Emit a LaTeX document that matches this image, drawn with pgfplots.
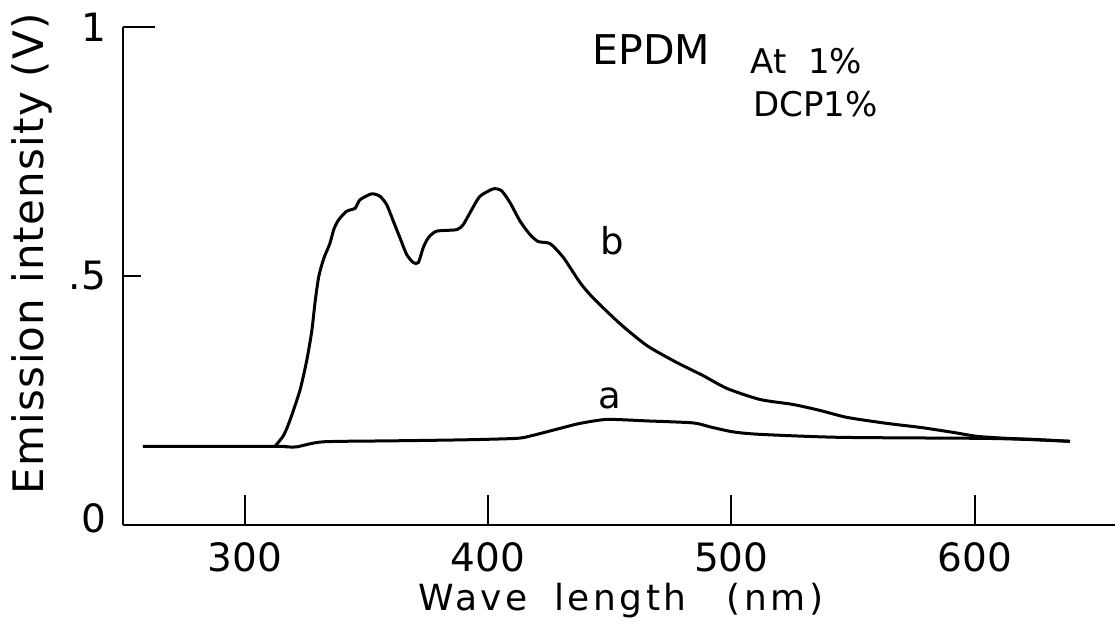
\documentclass[border=0pt]{standalone}
\usepackage{fontspec}
\setmainfont{DejaVu Sans}
\newfontfamily\xlfont[LetterSpace=10]{DejaVu Sans}
\newfontfamily\ylfont[LetterSpace=3]{DejaVu Sans}
\usepackage{pgfplots}
\pgfplotsset{compat=1.18}

\pgfplotstableread{
w v
312.5 0.158
316.0 0.18
318.6 0.21
322.7 0.27
325.5 0.33
327.6 0.39
329.0 0.45
330.5 0.50
332.5 0.535
335.0 0.565
336.6 0.593
338.5 0.612
341.9 0.630
345.4 0.636
347.4 0.653
352.2 0.665
355.6 0.66
358.4 0.643
361.1 0.61
363.8 0.577
366.6 0.543
369.3 0.527
371.4 0.527
373.4 0.557
375.5 0.577
378.9 0.59
387.1 0.593
389.8 0.603
393.3 0.633
396.7 0.66
402.2 0.675
405.6 0.671
409.1 0.647
413.2 0.61
417.3 0.583
420.7 0.569
425.5 0.565
431.0 0.537
437.8 0.487
443.2 0.456
454.3 0.404
465.4 0.36
477.7 0.326
488.4 0.30
498.3 0.274
511.8 0.252
525.4 0.242
536.5 0.23
547.6 0.216
564.0 0.204
577.6 0.196
591.1 0.186
601.0 0.178
613.3 0.174
624.0 0.172
639.2 0.168
}\curveb

\pgfplotstableread{
w v
258.2 0.158
312.5 0.158
317.0 0.157
321.5 0.157
332.2 0.167
361.0 0.169
390.0 0.171
411.9 0.174
418.5 0.180
429.6 0.194
437.8 0.204
448.9 0.212
465.4 0.209
484.3 0.205
491.3 0.197
500.7 0.187
511.8 0.182
544.7 0.176
602.2 0.174
620.0 0.172
639.2 0.168
}\curvea

\begin{document}
\begin{tikzpicture}
\begin{axis}[
  scale only axis,
  width=496pt, height=249pt,
  xmin=250, xmax=657.7, ymin=0, ymax=1,
  axis lines=left,
  axis line style={-, line width=1.2pt},
  tick align=inside,
  major tick length=9pt,
  every tick/.style={black, line width=1.1pt},
  xtick={300,400,500,600},
  xticklabels={300,400,500,600},
  ytick={0,0.5},
  yticklabels={{\raisebox{6.5pt}{0}},{.5}},
  extra y ticks={1},
  extra y tick labels={1},
  extra y tick style={/pgfplots/major tick length=16pt},
  xtick style={/pgfplots/major tick length=15pt},
  ticklabel style={font=\fontsize{19.5}{19.5}\selectfont},
  xticklabel style={yshift=-5pt},
  yticklabel style={xshift=-5pt},
  xlabel={Wave\hspace{13pt}length\hspace{20pt}(nm)},
  xlabel style={at={(axis description cs:0.502,-0.116)}, anchor=north, inner sep=0pt,
    font=\xlfont\fontsize{18}{18}\selectfont},
  ylabel={Emission intensity (V)},
  ylabel style={at={(axis description cs:-0.113,0.545)}, anchor=north, inner sep=0pt,
    font=\ylfont\fontsize{21}{21}\selectfont},
  clip=false,
]
\addplot[black, line width=1.5pt, smooth, tension=0.4] table[x=w, y=v] {\curveb};
\addplot[black, line width=1.5pt, smooth, tension=0.4] table[x=w, y=v] {\curvea};
\node[anchor=base west, inner sep=0pt, font=\fontsize{20.5}{20.5}\selectfont] at (axis cs:442.8,0.924) {EPDM};
\node[anchor=base west, inner sep=0pt, font=\fontsize{17}{17}\selectfont] at (axis cs:507.7,0.906) {At\ \ 1\%};
\node[anchor=base west, inner sep=0pt, font=\fontsize{17}{17}\selectfont] at (axis cs:508.9,0.82) {DCP1\%};
\node[anchor=base west, inner sep=0pt, font=\fontsize{18.5}{18.5}\selectfont] at (axis cs:446,0.544) {b};
\node[anchor=base west, inner sep=0pt, font=\fontsize{18.5}{18.5}\selectfont] at (axis cs:445.2,0.234) {a};
\end{axis}
\pgfresetboundingbox
\path[use as bounding box] (-61.5pt,-57.5pt) rectangle (496pt,262.5pt);
\end{tikzpicture}
\end{document}
